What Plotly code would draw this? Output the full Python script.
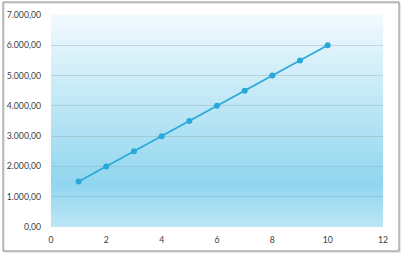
import plotly.graph_objects as go

x_vals = [1, 2, 3, 4, 5, 6, 7, 8, 9, 10]
y_vals = [1500, 2000, 2500, 3000, 3500, 4000, 4500, 5000, 5500, 6000]
x_ticks = [0, 2, 4, 6, 8, 10, 12]
y_ticks = [0, 1000, 2000, 3000, 4000, 5000, 6000, 7000]

W, H = 404, 254
L, R, T, B = 51, 21, 15, 27
pw, ph = W - L - R, H - T - B

def lerp(c1, c2, t):
    return tuple(round(a + (b - a) * t) for a, b in zip(c1, c2))

stops = [(0.0, (242, 250, 254)), (0.8, (145, 214, 239)), (1.0, (188, 230, 246))]  # from top

def color_at(f):
    for (f1, c1), (f2, c2) in zip(stops[:-1], stops[1:]):
        if f1 <= f <= f2:
            return lerp(c1, c2, (f - f1) / (f2 - f1))
    return stops[-1][1]

shapes = []
N = 106
for i in range(N):
    f = (i + 0.5) / N
    c = color_at(f)
    shapes.append(dict(type="rect", xref="x domain", yref="y domain",
                       x0=0, x1=1, y0=1 - (i + 1) / N, y1=1 - i / N + 0.002,
                       fillcolor="rgb(%d,%d,%d)" % c, line=dict(width=0), layer="below"))

def px(xp): return (xp - L) / pw
def py(yp): return (H - B - yp) / ph

# outer chart border with slight shadow
shapes.append(dict(type="rect", xref="paper", yref="paper",
                   x0=px(4), x1=px(400), y0=py(252), y1=py(3),
                   line=dict(color="#d0d0d0", width=1), layer="below"))
shapes.append(dict(type="rect", xref="paper", yref="paper",
                   x0=px(3), x1=px(399), y0=py(251), y1=py(2),
                   line=dict(color="#8a8a8a", width=1), layer="below"))

fig = go.Figure()
fig.add_trace(go.Scatter(x=x_vals, y=y_vals, mode="lines+markers",
                         line=dict(color="#2aa8da", width=1.7),
                         marker=dict(color="#2aa8da", size=6)))

font = dict(family="Lato", size=8.7, color="#404040")
fig.update_layout(
    width=W, height=H, margin=dict(l=L, r=R, t=T, b=B, autoexpand=False),
    paper_bgcolor="white", plot_bgcolor="rgba(0,0,0,0)",
    separators=",.", showlegend=False, shapes=shapes,
    xaxis=dict(range=[0, 12], tickvals=x_ticks, showgrid=False, zeroline=False, automargin=False,
               showline=False, tickfont=font, ticks="", ticklabelstandoff=6, fixedrange=True),
    yaxis=dict(range=[0, 7000], tickvals=y_ticks, tickformat=",.2f", showgrid=True, automargin=False,
               gridcolor="rgba(140,160,170,0.35)", gridwidth=1, zeroline=False,
               showline=False, tickfont=font, ticks="", ticklabelstandoff=9, fixedrange=True),
)
fig.write_html("out.html")
